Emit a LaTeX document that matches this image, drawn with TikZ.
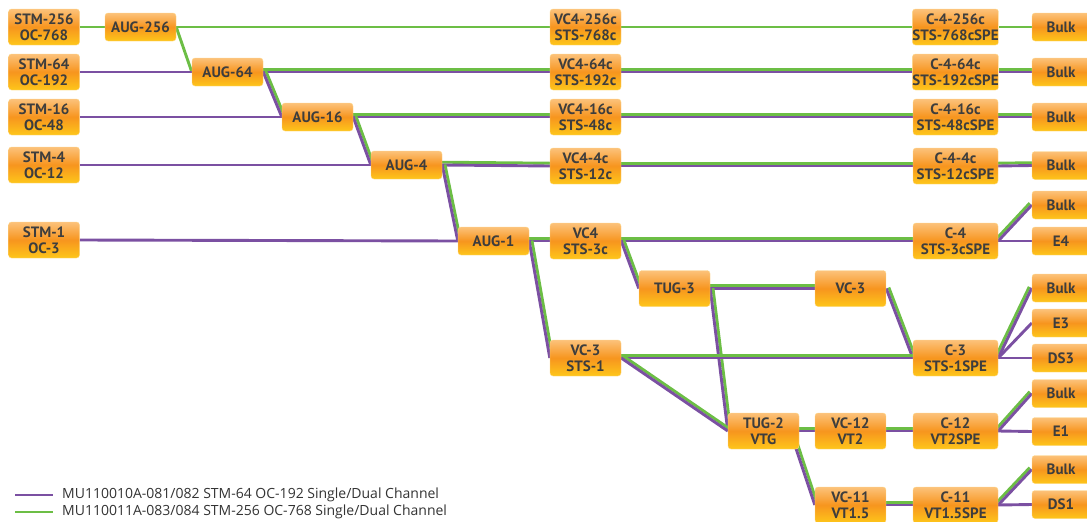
\documentclass[tikz,border=0pt]{standalone}
\usepackage{fontspec}
\setmainfont{PT Sans}
\newfontfamily\legendfont{Open Sans}
\usetikzlibrary{calc,backgrounds}
\definecolor{purp}{HTML}{7B50A2}
\definecolor{grn}{HTML}{6CBE45}
\definecolor{btop}{HTML}{FCC27A}
\definecolor{bmid}{HTML}{F7951E}
\definecolor{bbot}{HTML}{FEC61A}
\definecolor{btxt}{HTML}{3D3D3D}
\definecolor{bedge}{HTML}{FDD88A}
\tikzset{
 box/.style={rounded corners=3pt, top color=btop, bottom color=bbot, middle color=bmid,
   draw=bedge, line width=0.4pt, inner sep=0pt, align=center, text=btxt,
   font=\fontsize{15}{16.5}\selectfont\bfseries, minimum width=71pt, minimum height=36pt},
 aug/.style={box, minimum height=28pt},
 cbox/.style={box, minimum width=85pt},
 term/.style={box, minimum width=58pt, minimum height=28pt},
 gline/.style={draw=grn, line width=2.9pt},
 pline/.style={draw=purp, line width=2.9pt},
 legtext/.style={anchor=west, inner sep=0pt, text=black!80, font=\legendfont\fontsize{14}{16}\selectfont},
}
\newcommand\dualline[2]{%
  \draw[gline] ($(#1)!2.8pt!90:(#2)$) -- ($(#2)!2.8pt!-90:(#1)$);
  \draw[pline] (#1) -- (#2);}
\begin{document}
\begin{tikzpicture}[x=1pt,y=-1pt]
\useasboundingbox (0,0) rectangle (1087,522);
% column 1
\node[box] (STM256) at (44,27) {STM-256\\OC-768};
\node[box] (STM64) at (44,72) {STM-64\\OC-192};
\node[box] (STM16) at (44,117) {STM-16\\OC-48};
\node[box] (STM4) at (44,165) {STM-4\\OC-12};
\node[box] (STM1) at (44,240) {STM-1\\OC-3};
% AUGs
\node[aug] (AUG256) at (140.5,27) {AUG-256};
\node[aug] (AUG64) at (227.5,72) {AUG-64};
\node[aug] (AUG16) at (317.5,117) {AUG-16};
\node[aug] (AUG4) at (406.5,165) {AUG-4};
\node[aug] (AUG1) at (493.5,241) {AUG-1};
% VCs
\node[box] (VC4256) at (585.5,27) {VC4-256c\\STS-768c};
\node[box] (VC464) at (585.5,72) {VC4-64c\\STS-192c};
\node[box] (VC416) at (585.5,117) {VC4-16c\\STS-48c};
\node[box] (VC44) at (585.5,166) {VC4-4c\\STS-12c};
\node[box] (VC4) at (585.5,241) {VC4\\STS-3c};
\node[box] (VC3S) at (585.5,358) {VC-3\\STS-1};
\node[box] (TUG3) at (674.5,288.5) {TUG-3};
\node[box] (VC3) at (850.5,288.5) {VC-3};
\node[box] (TUG2) at (763.5,431) {TUG-2\\VTG};
\node[box] (VC12) at (850.5,431) {VC-12\\VT2};
\node[box] (VC11) at (850.5,505) {VC-11\\VT1.5};
% Cs
\node[cbox] (C4256) at (955.5,27) {C-4-256c\\STS-768cSPE};
\node[cbox] (C464) at (955.5,72) {C-4-64c\\STS-192cSPE};
\node[cbox] (C416) at (955.5,117) {C-4-16c\\STS-48cSPE};
\node[cbox] (C44) at (955.5,166) {C-4-4c\\STS-12cSPE};
\node[cbox] (C4) at (955.5,241) {C-4\\STS-3cSPE};
\node[cbox] (C3) at (955.5,358) {C-3\\STS-1SPE};
\node[cbox] (C12) at (955.5,431) {C-12\\VT2SPE};
\node[cbox] (C11) at (955.5,505) {C-11\\VT1.5SPE};
% terminals
\node[term] (B1) at (1061,27) {Bulk};
\node[term] (B2) at (1061,72) {Bulk};
\node[term] (B3) at (1061,117) {Bulk};
\node[term] (B4) at (1061,165.5) {Bulk};
\node[term] (B5) at (1061,205) {Bulk};
\node[term] (E4) at (1061,241) {E4};
\node[term] (B6) at (1061,288) {Bulk};
\node[term] (E3) at (1061,323) {E3};
\node[term] (DS3) at (1061,358) {DS3};
\node[term] (B7) at (1061,393.5) {Bulk};
\node[term] (E1) at (1061,431.5) {E1};
\node[term] (B8) at (1061,469.5) {Bulk};
\node[term] (DS1) at (1061,504.5) {DS1};
% legend
\coordinate (lp1) at (15,495); \coordinate (lp2) at (53,495);
\coordinate (lg1) at (15,512); \coordinate (lg2) at (53,512);
\draw[purp, line width=2.9pt] (lp1) -- (lp2);
\draw[grn, line width=2.9pt] (lg1) -- (lg2);
\node[legtext] (leg1) at (62,495) {MU110010A-081/082 STM-64 OC-192 Single/Dual Channel};
\node[legtext] (leg2) at (62,512) {MU110011A-083/084 STM-256 OC-768 Single/Dual Channel};
\coordinate (T2s) at ($(TUG2.east)+(-9,0)$);
\begin{scope}[on background layer]
 % green only
 \draw[gline] (STM256.east) -- (AUG256.west);
 \draw[gline] (AUG256.east) -- (VC4256.west);
 \draw[gline] (VC4256.east) -- (C4256.west);
 \draw[gline] (C4256.east) -- (B1.west);
 \draw[gline] (AUG256.east) -- (AUG64.west);
 % purple only
 \draw[pline] (STM64.east) -- (AUG64.west);
 \draw[pline] (STM16.east) -- (AUG16.west);
 \draw[pline] (STM4.east) -- (AUG4.west);
 \draw[pline] (STM1.east) -- (AUG1.west);
 \draw[pline] (C4.east) -- (E4.west);
 \draw[pline] (C3.east) -- (E3.west);
 \draw[pline] (C3.east) -- (DS3.west);
 \draw[pline] (C12.east) -- (E1.west);
 \draw[pline] (C11.east) -- (DS1.west);
 % both
 \dualline{AUG64.east}{VC464.west}
 \dualline{VC464.east}{C464.west}
 \dualline{C464.east}{B2.west}
 \dualline{AUG64.east}{AUG16.west}
 \dualline{AUG16.east}{VC416.west}
 \dualline{VC416.east}{C416.west}
 \dualline{C416.east}{B3.west}
 \dualline{AUG16.east}{AUG4.west}
 \dualline{AUG4.east}{VC44.west}
 \dualline{VC44.east}{C44.west}
 \dualline{C44.east}{B4.west}
 \dualline{AUG4.east}{AUG1.west}
 \dualline{AUG1.east}{VC4.west}
 \dualline{AUG1.east}{VC3S.west}
 \dualline{VC4.east}{C4.west}
 \dualline{VC4.east}{TUG3.west}
 \dualline{C4.east}{B5.west}
 \dualline{TUG3.east}{VC3.west}
 \dualline{TUG3.east}{TUG2.west}
 \dualline{VC3.east}{C3.west}
 \dualline{VC3S.east}{C3.west}
 \dualline{VC3S.east}{TUG2.west}
 \dualline{C3.east}{B6.west}
 \dualline{TUG2.east}{VC12.west}
 \dualline{T2s}{VC11.west}
 \dualline{VC12.east}{C12.west}
 \dualline{C12.east}{B7.west}
 \dualline{VC11.east}{C11.west}
 \dualline{C11.east}{B8.west}
\end{scope}
\end{tikzpicture}
\end{document}
